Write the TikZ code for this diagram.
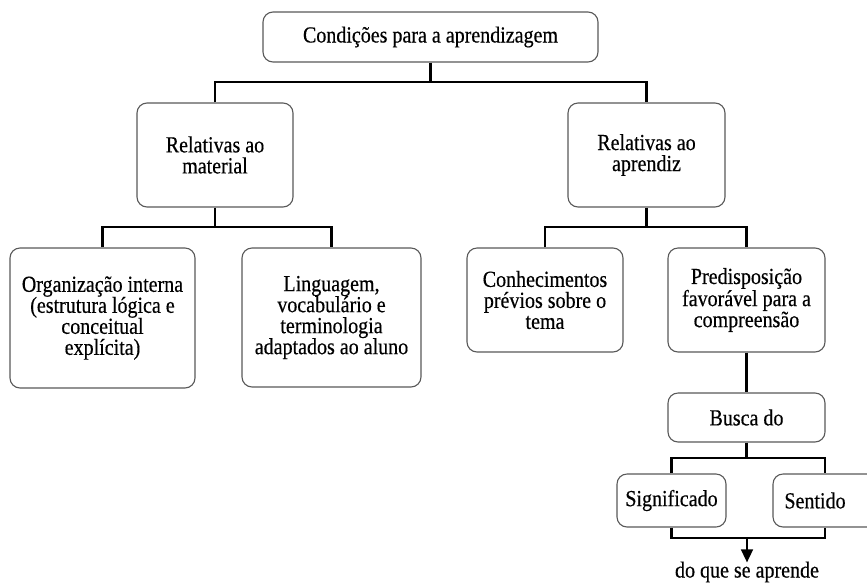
\documentclass[tikz,border=0pt]{standalone}
\usepackage{fontspec}
\setmainfont{Liberation Serif}[FakeStretch=0.87,FakeBold=0.4]
\usetikzlibrary{arrows.meta}
\tikzset{
  box/.style={draw=black!65, line width=1.1pt, rounded corners=10pt, fill=white,
    align=center, inner sep=0pt, font=\fontsize{23}{21}\selectfont},
  conn/.style={draw=black, line width=2.6pt},
  plain/.style={inner sep=0pt, font=\fontsize{23}{21}\selectfont}
}
\begin{document}
\begin{tikzpicture}[x=1pt,y=-1pt]
\useasboundingbox (0,0) rectangle (867,582);
\node[box, minimum width=335pt, minimum height=50pt] (top) at (430.5,37) {Condições para a aprendizagem};
\node[box, minimum width=156pt, minimum height=104pt] (mat) at (215,155) {Relativas ao\\material};
\node[box, minimum width=157pt, minimum height=104pt] (apr) at (646.5,155) {Relativas ao\\aprendiz};
\node[box, minimum width=185pt, minimum height=140pt] (org) at (102.5,318) {Organização interna\\(estrutura lógica e\\conceitual\\explícita)};
\node[box, minimum width=179pt, minimum height=139pt] (lin) at (331.5,317.5) {Linguagem,\\vocabulário e\\terminologia\\adaptados ao aluno};
\node[box, minimum width=156pt, minimum height=104pt] (con) at (545,300) {Conhecimentos\\prévios sobre o\\tema};
\node[box, minimum width=157pt, minimum height=104pt] (pre) at (746.5,300) {Predisposição\\favorável para a\\compreensão};
\node[box, minimum width=157pt, minimum height=49pt] (bus) at (746.5,417.5) {Busca do};
\node[box, minimum width=109pt, minimum height=53pt] (sig) at (671.5,500.5) {Significado};
\node[box, minimum width=104pt, minimum height=53pt] (sen) at (825,500.5) {Sentido\hspace*{20pt}};
\node[plain] (res) at (747,572) {do que se aprende};

\coordinate (j1) at (430.5,82);
\coordinate (j2) at (215,227);
\coordinate (j3) at (646.5,227);
\coordinate (j4) at (746.5,458);
\coordinate (j5) at (747,538);

\draw[conn] (top.south) -- (j1);
\draw[conn] (mat.north) |- (j1) -| (apr.north);
\draw[conn] (mat.south) -- (j2);
\draw[conn] (org.north) |- (j2) -| (lin.north);
\draw[conn] (apr.south) -- (j3);
\draw[conn] (con.north) |- (j3) -| (pre.north);
\draw[conn] (pre.south) -- (bus.north);
\draw[conn] (bus.south) -- (j4);
\draw[conn] (sig.north) |- (j4) -| (sen.north);
\draw[conn] (sig.south) |- (j5) -| (sen.south);
\draw[line width=1.6pt, -{Triangle[length=13pt,width=12pt]}] (j5) -- ([yshift=-1pt]res.north);
\end{tikzpicture}
\end{document}
